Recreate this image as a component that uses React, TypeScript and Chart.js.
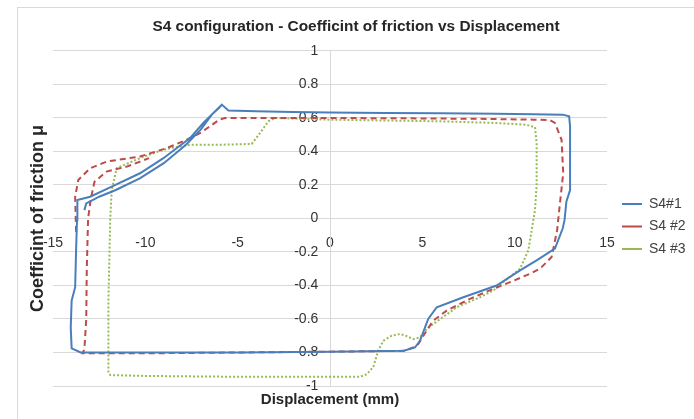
import React, { useEffect, useRef } from "react";
import { Chart, registerables } from "chart.js";

Chart.register(...registerables);

const TITLE = "S4 configuration - Coefficint of friction vs Displacement";
const X_TITLE = "Displacement (mm)";
const Y_TITLE = "Coefficint of friction \u03bc";
const SERIES_NAMES = ["S4#1", "S4 #2", "S4 #3"];

const X_MIN = -15;
const X_MAX = 15;
const X_STEP = 5;
const Y_MIN = -1;
const Y_MAX = 1;
const Y_STEP = 0.2;

// S4#1 (blue, solid)
const s41X = [
  -13.3, -13.2, -12.5, -11.6, -10.3, -9.0, -7.8, -7.0, -6.4, -6.0,
  -5.86, -5.5, -4, -2, 0, 3, 6, 9, 11, 12.6, 12.95, 13.0, 13.0, 13.0, 12.8, 12.7, 12.6,
  12.18, 11.19, 10.29, 9.02, 7.22, 5.78, 5.32, 4.87, 4.6, 4.0, 0, -5, -10, -13.5,
  -13.99, -14.04, -13.99, -13.8, -13.75, -13.7, -13.68, -12.99, -11.82, -10.29, -9.02,
  -7.58, -6.86, -5.86,
];
const s41Y = [
  0.05, 0.09, 0.13, 0.17, 0.24, 0.33, 0.44, 0.53, 0.62, 0.66,
  0.68, 0.645, 0.64, 0.635, 0.632, 0.63, 0.628, 0.625, 0.622, 0.62, 0.61, 0.55, 0.35, 0.17, 0.1, -0.01, -0.06,
  -0.18, -0.25, -0.31, -0.4, -0.47, -0.53, -0.6, -0.73, -0.77, -0.79, -0.795, -0.8, -0.8, -0.8,
  -0.775, -0.65, -0.49, -0.41, -0.19, -0.01, 0.11, 0.13, 0.19, 0.27, 0.36,
  0.48, 0.57, 0.68,
];

// S4 #2 (red, dashed)
const s42X = [
  -13.75, -13.8, -13.63, -12.99, -12.09, -10.29, -8.84, -7.76, -7.04, -6.5, -6.0, -5.69,
  -3, 0, 4, 8, 11, 11.9, 12.18, 12.54, 12.63, 12.45, 12.3, 12.0, 11.37, 10.83, 9.75,
  8.84, 7.58, 6.32, 5.59, 5.23, 4.78, 4.51, 4.0, 0, -5, -10, -13.4, -13.3, -13.2,
  -13.17, -13.1, -12.95, -12.75, -12.1, -11, -9.8,
];
const s42Y = [
  -0.08, 0.13, 0.23, 0.3, 0.34, 0.37, 0.42, 0.47, 0.51, 0.55, 0.59, 0.6,
  0.6, 0.6, 0.598, 0.595, 0.59, 0.588, 0.57, 0.47, 0.27, 0.09, -0.07, -0.23, -0.3, -0.33, -0.38,
  -0.42, -0.48, -0.55, -0.61, -0.67, -0.75, -0.77, -0.79, -0.795, -0.8, -0.805, -0.805, -0.78, -0.6,
  -0.3, 0.0, 0.12, 0.22, 0.28, 0.31, 0.36,
];

// S4 #3 (green, dotted)
const s43X = [
  -12.0, -12.0, -11.9, -11.82, -11.55, -10.3, -9.3, -8.66, -7.58, -6, -4.24, -3.79, -3.34,
  -2.98, 0, 3, 6, 9, 10.6, 11.1, 11.19, 11.19, 11.1, 10.92, 10.74, 10.29, 9.5, 8.84,
  8.12, 6.86, 5.59, 5.23, 4.87, 4.51, 4.1, 3.79, 3.34, 2.89, 2.62, 2.35, 1.99, 1.62,
  0, -5, -10, -11.9, -12.0,
];
const s43Y = [
  -0.92, -0.5, 0.0, 0.17, 0.3, 0.36, 0.4, 0.42, 0.44, 0.44, 0.445, 0.51, 0.58,
  0.6, 0.59, 0.585, 0.58, 0.57, 0.56, 0.545, 0.45, 0.2, 0.05, -0.07, -0.19, -0.3, -0.37, -0.43,
  -0.47, -0.53, -0.63, -0.66, -0.71, -0.72, -0.7, -0.69, -0.7, -0.73, -0.785, -0.885, -0.93, -0.945,
  -0.945, -0.945, -0.94, -0.935, -0.92,
];

const COLORS = ["#4a7ebb", "#be4b48", "#98b954"];
const DASHES = [[], [6, 4], [2, 2]];

const FONT = "'Liberation Sans', Arial, sans-serif";

function pts(xs: number[], ys: number[]) {
  return xs.map((x, i) => ({ x, y: ys[i] }));
}

export default function App() {
  const ref = useRef<HTMLCanvasElement | null>(null);

  useEffect(() => {
    if (!ref.current) return;
    const seriesX = [s41X, s42X, s43X];
    const seriesY = [s41Y, s42Y, s43Y];
    const chart = new Chart(ref.current, {
      type: "scatter",
      data: {
        datasets: SERIES_NAMES.map((name, i) => ({
          label: name,
          data: pts(seriesX[i], seriesY[i]),
          showLine: true,
          borderColor: COLORS[i],
          backgroundColor: COLORS[i],
          borderWidth: 2,
          borderDash: DASHES[i],
          pointRadius: 0,
          pointHoverRadius: 0,
          tension: 0,
          xAxisID: "x",
          yAxisID: "y",
        })),
      },
      options: {
        animation: false,
        responsive: false,
        events: [],
        layout: { padding: { left: 18, right: 0, top: 8, bottom: 7 } },
        plugins: {
          title: {
            display: true,
            text: TITLE,
            color: "#262626",
            font: { family: FONT, size: 15.4, weight: "bold" },
            padding: { top: 9.8, bottom: 14.7 },
          },
          legend: {
            position: "right",
            fullSize: false,
            maxWidth: 80.5,
            title: { display: true, text: " ", font: { size: 10 }, padding: 2 },
            labels: {
              usePointStyle: true,
              pointStyle: "line",
              pointStyleWidth: 20,
              color: "#404040",
              font: { family: FONT, size: 14 },
              padding: 8.5,
            },
          },
          tooltip: { enabled: false },
        },
        scales: {
          x: {
            type: "linear",
            axis: "x",
            position: { y: 0 },
            min: X_MIN,
            max: X_MAX,
            ticks: {
              stepSize: X_STEP,
              color: "#333333",
              font: { family: FONT, size: 14 },
              padding: 16,
            },
            grid: { display: false, drawTicks: false },
            border: { display: true, color: "#d9d9d9", width: 1 },
          },
          y: {
            type: "linear",
            axis: "y",
            position: { x: 0 },
            min: Y_MIN,
            max: Y_MAX,
            ticks: {
              stepSize: Y_STEP,
              color: "#333333",
              font: { family: FONT, size: 14 },
              callback: (v: any) => String(Math.round(Number(v) * 10) / 10) + "   ",
            },
            grid: { color: "#d9d9d9", lineWidth: 1, drawTicks: false },
            border: { display: true, color: "#d9d9d9", width: 1 },
          },
          xTitle: {
            type: "linear",
            axis: "x",
            position: "bottom",
            display: true,
            ticks: { display: false },
            grid: { display: false, drawTicks: false },
            border: { display: false },
            title: {
              display: true,
              text: X_TITLE,
              color: "#262626",
              font: { family: FONT, size: 15, weight: "bold" },
              padding: { top: 5, bottom: 3 },
            },
          },
          yTitle: {
            type: "linear",
            axis: "y",
            position: "left",
            display: true,
            ticks: { display: false },
            grid: { display: false, drawTicks: false },
            border: { display: false },
            title: {
              display: true,
              text: Y_TITLE,
              color: "#262626",
              font: { family: FONT, size: 18, weight: "bold" },
              padding: { top: 9.2, bottom: 4.2 },
            },
          },
          spacer: {
            type: "linear",
            axis: "y",
            position: "right",
            display: true,
            ticks: { display: false },
            grid: { display: false, drawTicks: false },
            border: { display: false },
            afterFit: (s: any) => {
              s.width = 6.5;
            },
          },
        },
      },
    } as any);
    return () => chart.destroy();
  }, []);

  return (
    <div style={{ position: "fixed", left: 0, top: 0, width: 694, height: 419, background: "#ffffff", overflow: "hidden" }}>
      <div style={{ position: "absolute", left: 17, top: 7, width: 700, height: 450, border: "1px solid #d9d9d9" }} />
      <canvas ref={ref} width={694} height={419} style={{ position: "absolute", left: 0, top: 0 }} />
    </div>
  );
}
